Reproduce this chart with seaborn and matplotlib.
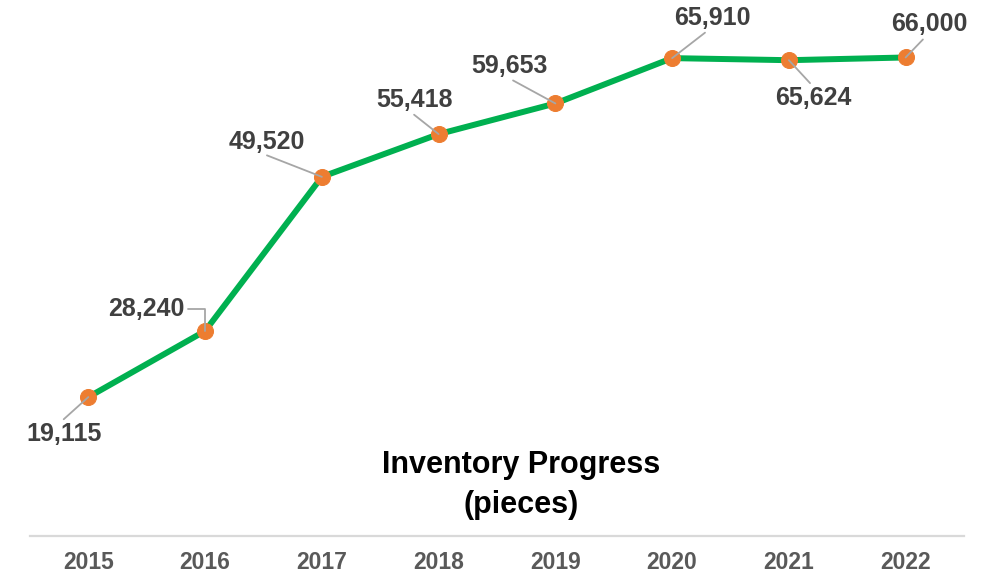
import matplotlib
matplotlib.use("Agg")
import matplotlib.pyplot as plt
import seaborn as sns
import pandas as pd

years = ["2015", "2016", "2017", "2018", "2019", "2020", "2021", "2022"]
inventory = [19115, 28240, 49520, 55418, 59653, 65910, 65624, 66000]
title_lines = ["Inventory Progress", "(pieces)"]

# label offsets in pixels and leader start points (layout only)
label_offsets = [(-24, -37), (-59, 22), (-55, 35), (-24, 34),
                 (-46, 37), (40, 40), (24, -38), (24, 33)]
leader_relpos = [(0.45, 1.0), (1.0, 0.5), (0.45, 0.0), (0.45, 0.0),
                 (0.5, 0.0), (0.45, 0.0), (0.5, 1.0), (0.45, 0.0)]

sns.set_style("white")
plt.rcParams['font.family'] = ['Liberation Sans', 'DejaVu Sans']

df = pd.DataFrame({"year": years, "inventory": inventory})

fig = plt.figure(figsize=(9.81, 5.75), dpi=100)
ax = fig.add_axes([30/981, 39.5/575, 934/981, 507/575])

sns.lineplot(data=df, x="year", y="inventory", ax=ax, color="#00B050",
             linewidth=4.3, marker="o", markersize=11.5,
             markerfacecolor="#ED7D31", markeredgecolor="#ED7D31", sort=False)

ax.set_ylim(0, 70000)
ax.set_xlim(-0.5, len(years) - 0.5)
ax.set_xlabel("")
ax.set_ylabel("")
ax.set_yticks([])
for s in ["top", "right", "left"]:
    ax.spines[s].set_visible(False)
ax.spines["bottom"].set_color("#D9D9D9")
ax.spines["bottom"].set_linewidth(1.6)
ax.tick_params(axis="x", length=0, pad=11, labelsize=16.5, labelcolor="#595959")
for lbl in ax.get_xticklabels():
    lbl.set_fontweight("bold")

for i, (v, off, rp) in enumerate(zip(inventory, label_offsets, leader_relpos)):
    if i == 1:
        cs = "angle,angleA=0,angleB=90,rad=0"
    else:
        cs = "arc3"
    ax.annotate(f"{v:,}", xy=(i, v), xytext=off, textcoords="offset pixels",
                ha="center", va="center", fontsize=18, fontweight="bold",
                color="#404040",
                arrowprops=dict(arrowstyle="-", color="#A6A6A6", lw=1.3,
                                patchA=None, relpos=rp,
                                shrinkA=3, shrinkB=0, connectionstyle=cs))

fig.text(521/981, (575 - 485)/575, "\n".join(title_lines), ha="center",
         va="center", fontsize=22, fontweight="bold", color="black",
         linespacing=1.45,
         family=['Liberation Sans Narrow', 'Liberation Sans', 'DejaVu Sans'])

fig.savefig("out.png", dpi=100)
